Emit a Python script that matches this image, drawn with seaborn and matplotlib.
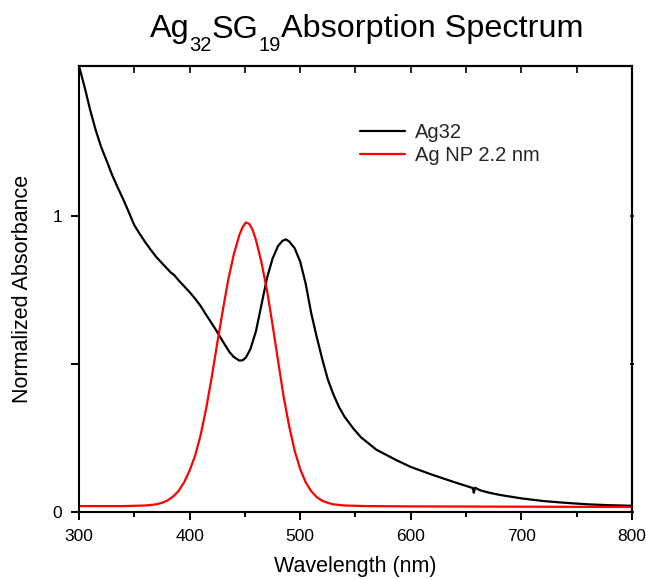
import numpy as np
import pandas as pd
import matplotlib
matplotlib.use("Agg")
import matplotlib.pyplot as plt
import seaborn as sns
from matplotlib.ticker import MultipleLocator, FixedLocator
from matplotlib.transforms import blended_transform_factory

# ---- data ----
ag32_wl = [300, 305, 310, 315, 320, 325, 330, 335, 340, 345, 350, 355, 360, 365,
           370, 375, 380, 383, 386, 390, 395, 400, 405, 410, 415, 420, 425, 430,
           436, 440, 445, 448, 451, 455, 460, 465, 470, 475, 480, 484, 487, 490,
           495, 500, 505, 510, 515, 520, 525, 530, 535, 540, 548, 555, 569, 587,
           600, 620, 640, 656, 657, 658, 663, 670, 680, 700, 720, 740, 760, 780,
           800]
ag32_abs = [1.505, 1.435, 1.358, 1.29, 1.232, 1.185, 1.137, 1.095, 1.055, 1.012,
            0.968, 0.938, 0.91, 0.884, 0.86, 0.84, 0.82, 0.808, 0.80, 0.782,
            0.762, 0.742, 0.72, 0.695, 0.665, 0.637, 0.607, 0.576, 0.54, 0.523,
            0.511, 0.512, 0.522, 0.55, 0.61, 0.70, 0.79, 0.855, 0.898, 0.915,
            0.92, 0.913, 0.89, 0.845, 0.77, 0.67, 0.59, 0.515, 0.447, 0.397,
            0.355, 0.322, 0.282, 0.252, 0.21, 0.175, 0.152, 0.125, 0.10, 0.081,
            0.065, 0.082, 0.073, 0.066, 0.058, 0.046, 0.037, 0.031, 0.026, 0.023,
            0.021]

np_wl = [300, 340, 360, 370, 375, 380, 385, 390, 395, 400, 405, 410, 415, 420,
         425, 430, 435, 440, 445, 448, 451, 454, 457, 460, 465, 470, 475, 480,
         485, 490, 495, 500, 505, 510, 515, 520, 525, 530, 540, 560, 600, 700,
         800]
np_abs = [0.020, 0.020, 0.022, 0.026, 0.031, 0.039, 0.052, 0.071, 0.10, 0.14,
          0.19, 0.26, 0.35, 0.455, 0.57, 0.68, 0.785, 0.87, 0.935, 0.962, 0.977,
          0.972, 0.952, 0.918, 0.842, 0.748, 0.632, 0.51, 0.39, 0.29, 0.207,
          0.145, 0.10, 0.07, 0.05, 0.038, 0.031, 0.026, 0.022, 0.02, 0.019,
          0.018, 0.017]

series_names = ["Ag32", "Ag NP 2.2 nm"]
series_colors = ["black", "red"]

x_ticks = [300, 400, 500, 600, 700, 800]
x_minor_ticks = [350, 450, 550, 650, 750]
y_ticks = [0, 0.5, 1]
y_tick_labels = ["0", "", "1"]

title_parts = ["Ag", "32", "SG", "19", "Absorption Spectrum"]

df = pd.concat([
    pd.DataFrame({"Wavelength": ag32_wl, "Absorbance": ag32_abs, "Sample": series_names[0]}),
    pd.DataFrame({"Wavelength": np_wl, "Absorbance": np_abs, "Sample": series_names[1]}),
])

sns.set_theme(style="ticks")
plt.rcParams["font.family"] = ["Liberation Sans", "DejaVu Sans"]
plt.rcParams.update({
    "axes.linewidth": 1.5,
    "axes.edgecolor": "black",
    "xtick.color": "black",
    "ytick.color": "black",
    "xtick.major.size": 6,
    "xtick.major.width": 1.3,
    "xtick.minor.size": 3.5,
    "xtick.minor.width": 1.3,
    "ytick.major.size": 6,
    "ytick.major.width": 1.3,
    "xtick.direction": "out",
    "ytick.direction": "out",
})

fig = plt.figure(figsize=(6.46, 5.8), dpi=100)
ax = fig.add_axes([0.1223, 0.1172, 0.856, 0.769])

sns.lineplot(data=df, x="Wavelength", y="Absorbance", hue="Sample",
             hue_order=series_names, palette=series_colors, linewidth=1.6,
             ax=ax, sort=True, estimator=None)

ax.set_xlim(300, 800)
ax.set_ylim(0, 1.505)
ax.xaxis.set_major_locator(FixedLocator(x_ticks))
ax.xaxis.set_minor_locator(FixedLocator(x_minor_ticks))
ax.yaxis.set_major_locator(FixedLocator(y_ticks))
ax.set_yticklabels(y_tick_labels)
ax.tick_params(axis="both", which="major", direction="out", length=6, width=1.3,
               labelsize=12.5, color="black", labelcolor="black", pad=6,
               bottom=True, left=True, top=False, right=False)

# outward tick marks on bottom and left, drawn explicitly outside the frame
bx = blended_transform_factory(ax.transData, ax.transAxes)
by = blended_transform_factory(ax.transAxes, ax.transData)
tick_style = dict(color="black", linestyle="none", markeredgewidth=1.3,
                  clip_on=False, zorder=10)
ax.plot(x_ticks, [0] * len(x_ticks), transform=bx, marker=3, markersize=6, **tick_style)
ax.plot(x_minor_ticks, [0] * len(x_minor_ticks), transform=bx, marker=3,
        markersize=3.5, **tick_style)
ax.plot([0] * len(y_ticks), y_ticks, transform=by, marker=0, markersize=6, **tick_style)
ax.set_xlim(300, 800)
ax.set_ylim(0, 1.505)

# top ticks (inward, every 50) and small right ticks
top = ax.secondary_xaxis("top")
top.xaxis.set_major_locator(MultipleLocator(50))
top.tick_params(direction="in", length=5, width=1.2, color="black", labeltop=False)
right = ax.secondary_yaxis("right")
right.yaxis.set_major_locator(FixedLocator(y_ticks))
right.tick_params(direction="inout", length=3, width=1.2, color="black", labelright=False)

ax.set_xlabel("Wavelength (nm)", fontsize=15.5, labelpad=9, color="black")
ax.set_ylabel("Normalized Absorbance", fontsize=15.5, labelpad=14, color="black")

# title built from pieces so the subscripts drop like the reference
fig.canvas.draw()
renderer = fig.canvas.get_renderer()
x_px = 150.0
base_px = 580 - 37.5
for i, part in enumerate(title_parts):
    is_sub = i in (1, 3)
    size = 14.5 if is_sub else 23.3
    y = base_px - (13.5 if is_sub else 0)
    t = fig.text(x_px / 646, y / 580, part, fontsize=size, color="black",
                 ha="left", va="baseline")
    bb = t.get_window_extent(renderer=renderer)
    x_px += bb.width

handles, labels = ax.get_legend_handles_labels()
keep = [(h, l) for h, l in zip(handles, labels) if l in series_names]
leg = ax.legend([h for h, _ in keep], [l for _, l in keep],
                loc="upper left", bbox_to_anchor=(0.494, 0.89), frameon=False,
                fontsize=14.5, handlelength=2.2, handletextpad=0.5,
                labelspacing=0.2, borderaxespad=0)
for line in leg.get_lines():
    line.set_linewidth(1.6)

fig.savefig("out.png", dpi=100, facecolor="white")
